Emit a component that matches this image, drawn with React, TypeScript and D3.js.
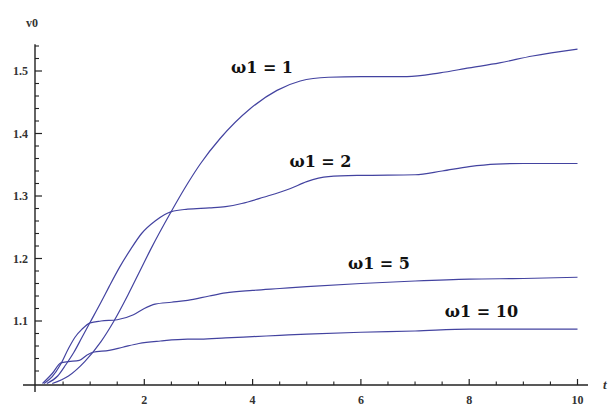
import React from "react";
import * as d3 from "d3";

// ---- data ----
const t1 = [0.3, 0.6, 0.9, 1.2, 1.44, 1.7, 1.93, 2.12, 2.49, 2.8, 3.04, 3.4, 3.96, 4.45, 4.88, 5.4, 6.0, 6.85, 7.46, 8.0, 8.56, 9.17, 10];
const v1 = [1.0, 1.012, 1.035, 1.067, 1.1, 1.142, 1.182, 1.215, 1.274, 1.32, 1.352, 1.392, 1.44, 1.469, 1.484, 1.49, 1.491, 1.491, 1.497, 1.505, 1.513, 1.524, 1.535];

const t2 = [0.2, 0.4, 0.55, 0.7, 0.85, 1.0, 1.2, 1.35, 1.55, 1.75, 1.95, 2.2, 2.5, 2.8, 3.2, 3.5, 3.8, 4.2, 4.7, 5.0, 5.4, 6.0, 7.0, 7.5, 8.0, 8.5, 9.0, 10];
const v2 = [1.0, 1.012, 1.03, 1.05, 1.074, 1.098, 1.13, 1.155, 1.187, 1.215, 1.24, 1.26, 1.275, 1.279, 1.281, 1.283, 1.288, 1.298, 1.312, 1.323, 1.331, 1.333, 1.334, 1.34, 1.347, 1.351, 1.352, 1.352];

const t5 = [0.15, 0.3, 0.45, 0.6, 0.72, 0.85, 1.0, 1.2, 1.5, 1.8, 2.0, 2.2, 2.5, 2.8, 3.2, 3.5, 4.0, 4.5, 5.0, 6.0, 7.0, 8.0, 9.0, 10];
const v5 = [1.0, 1.011, 1.03, 1.056, 1.074, 1.087, 1.097, 1.1, 1.102, 1.11, 1.12, 1.127, 1.13, 1.133, 1.14, 1.145, 1.149, 1.152, 1.155, 1.16, 1.164, 1.167, 1.168, 1.17];

const t10 = [0.12, 0.3, 0.46, 0.6, 0.8, 0.95, 1.05, 1.35, 1.6, 1.9, 2.3, 2.8, 3.04, 3.5, 4.0, 4.5, 5.0, 6.0, 7.0, 8.0, 9.0, 10];
const v10 = [1.0, 1.016, 1.033, 1.035, 1.037, 1.046, 1.05, 1.053, 1.058, 1.064, 1.068, 1.071, 1.071, 1.073, 1.075, 1.077, 1.079, 1.082, 1.084, 1.087, 1.087, 1.087];

const seriesNames = ["ω1 = 1", "ω1 = 2", "ω1 = 5", "ω1 = 10"];
const seriesT = [t1, t2, t5, t10];
const seriesV = [v1, v2, v5, v10];
// label anchors in data coordinates (t, v)
const labelT = [3.6, 4.68, 5.76, 7.55];
const labelV = [1.497, 1.346, 1.183, 1.106];

const xMajorTicks = [2, 4, 6, 8, 10];
const yMajorTicks = [1.1, 1.2, 1.3, 1.4, 1.5];

export default function App() {
  const W = 610, H = 408;
  const x = d3.scaleLinear().domain([0, 10]).range([36, 577.5]);
  const y = d3.scaleLinear().domain([1.0, 1.5]).range([383.5, 71]);
  const axisY = 385;
  const axisX = 35;
  const yTop = y(1.543);

  const xMinor = d3.range(0.5, 10.01, 0.5).filter((t) => Math.abs(t % 2) > 1e-6);
  const yMinor = d3.range(1.02, 1.545, 0.02).filter((v) => Math.abs(Math.round(v * 10) - v * 10) > 1e-6);

  const line = d3
    .line<[number, number]>()
    .x((d) => x(d[0]))
    .y((d) => y(d[1]))
    .curve(d3.curveMonotoneX);

  const axisColor = "#222";
  const lineColor = "#4343a0";

  return (
    <svg width={W} height={H} style={{ position: "absolute", left: 0, top: 0, background: "#fff" }}>
      {/* curves */}
      {seriesT.map((ts, i) => {
        const pts: [number, number][] = ts.map((t, j) => [t, seriesV[i][j]]);
        return <path key={i} d={line(pts) || ""} fill="none" stroke={lineColor} strokeWidth={1.2} />;
      })}
      {/* axes */}
      <line x1={23} x2={588} y1={axisY} y2={axisY} stroke={axisColor} strokeWidth={1.4} />
      <line x1={axisX} x2={axisX} y1={yTop} y2={392} stroke={axisColor} strokeWidth={1.4} />
      {/* x ticks */}
      {xMajorTicks.map((t) => (
        <g key={"xm" + t}>
          <line x1={x(t)} x2={x(t)} y1={axisY} y2={axisY - 6} stroke={axisColor} strokeWidth={1.2} />
          <text x={x(t)} y={404} textAnchor="middle" fontFamily="Liberation Serif" fontWeight="bold" fontSize={12} fill="#333">
            {t}
          </text>
        </g>
      ))}
      {xMinor.map((t) => (
        <line key={"xn" + t} x1={x(t)} x2={x(t)} y1={axisY} y2={axisY - 3.5} stroke={axisColor} strokeWidth={1.1} />
      ))}
      {/* y ticks */}
      {yMajorTicks.map((v) => (
        <g key={"ym" + v}>
          <line x1={axisX} x2={axisX + 7} y1={y(v)} y2={y(v)} stroke={axisColor} strokeWidth={1.2} />
          <text x={28} y={y(v) + 4} textAnchor="end" fontFamily="Liberation Serif" fontWeight="bold" fontSize={12} fill="#333">
            {v.toFixed(1)}
          </text>
        </g>
      ))}
      {yMinor.map((v) => (
        <line key={"yn" + v.toFixed(2)} x1={axisX} x2={axisX + 4} y1={y(v)} y2={y(v)} stroke={axisColor} strokeWidth={1.1} />
      ))}
      {/* axis labels */}
      <text x={26} y={27} fontFamily="Liberation Serif" fontWeight="bold" fontSize={12} fill="#333">
        v0
      </text>
      <text x={603} y={389} fontFamily="Liberation Serif" fontStyle="italic" fontWeight="bold" fontSize={13} fill="#333">
        t
      </text>
      {/* curve labels */}
      {seriesNames.map((name, i) => (
        <text
          key={name}
          x={x(labelT[i])}
          y={y(labelV[i])}
          fontFamily="DejaVu Serif"
          fontWeight="bold"
          fontSize={16}
          fill="#111"
        >
          {name}
        </text>
      ))}
    </svg>
  );
}
